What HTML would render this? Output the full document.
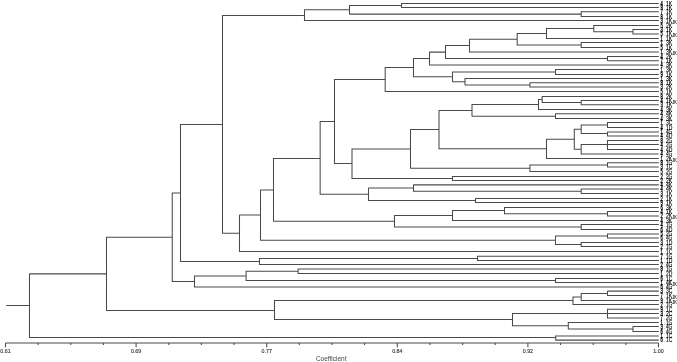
<!DOCTYPE html><html><head><meta charset="utf-8"><title>Dendrogram</title>
<style>html,body{margin:0;padding:0;background:#fff}svg{display:block}text{font-family:"Liberation Sans",sans-serif}</style></head><body>
<svg width="677" height="362" viewBox="0 0 677 362">
<rect width="677" height="362" fill="#fff"/>
<g stroke="#4a4a4a" stroke-width="1.05" fill="none" stroke-linecap="butt">
<path d="M401.50 3.50L658.80 3.50M401.50 7.50L658.80 7.50M401.50 3.10L401.50 7.90M581.20 11.75L658.80 11.75M581.20 16.50L658.80 16.50M581.20 11.35L581.20 16.90M349.50 5.50L401.50 5.50M349.50 14.10L581.20 14.10M349.50 5.10L349.50 14.50M304.50 9.80L349.50 9.80M304.50 20.50L658.80 20.50M304.50 9.40L304.50 20.90M633.00 29.50L658.80 29.50M633.00 34.00L658.80 34.00M633.00 29.10L633.00 34.40M593.80 25.50L658.80 25.50M593.80 31.75L633.00 31.75M593.80 25.10L593.80 32.15M546.50 28.50L593.80 28.50M546.50 38.50L658.80 38.50M546.50 28.10L546.50 38.90M581.20 42.50L658.80 42.50M581.20 47.50L658.80 47.50M581.20 42.10L581.20 47.90M517.20 33.50L546.50 33.50M517.20 45.00L581.20 45.00M517.20 33.10L517.20 45.40M469.50 39.30L517.20 39.30M469.50 52.00L658.80 52.00M469.50 38.90L469.50 52.40M607.50 56.50L658.80 56.50M607.50 60.70L658.80 60.70M607.50 56.10L607.50 61.10M445.50 45.50L469.50 45.50M445.50 58.50L607.50 58.50M445.50 45.10L445.50 58.90M429.50 52.10L445.50 52.10M429.50 65.00L658.80 65.00M429.50 51.70L429.50 65.40M555.50 69.50L658.80 69.50M555.50 74.50L658.80 74.50M555.50 69.10L555.50 74.90M529.90 82.80L658.80 82.80M529.90 87.00L658.80 87.00M529.90 82.40L529.90 87.40M465.00 78.50L658.80 78.50M465.00 84.90L529.90 84.90M465.00 78.10L465.00 85.30M452.50 71.90L555.50 71.90M452.50 81.70L465.00 81.70M452.50 71.50L452.50 82.10M413.50 58.50L429.50 58.50M413.50 76.80L452.50 76.80M413.50 58.10L413.50 77.20M385.20 67.50L413.50 67.50M385.20 91.50L658.80 91.50M385.20 67.10L385.20 91.90M581.20 100.50L658.80 100.50M581.20 104.80L658.80 104.80M581.20 100.10L581.20 105.20M542.20 96.50L658.80 96.50M542.20 102.50L581.20 102.50M542.20 96.10L542.20 102.90M538.50 99.50L542.20 99.50M538.50 109.50L658.80 109.50M538.50 99.10L538.50 109.90M555.50 113.80L658.80 113.80M555.50 118.50L658.80 118.50M555.50 113.40L555.50 118.90M472.00 104.50L538.50 104.50M472.00 116.15L555.50 116.15M472.00 104.10L472.00 116.55M607.50 122.50L658.80 122.50M607.50 127.50L658.80 127.50M607.50 122.10L607.50 127.90M607.50 132.00L658.80 132.00M607.50 136.00L658.80 136.00M607.50 131.60L607.50 136.40M581.20 125.00L607.50 125.00M581.20 133.50L607.50 133.50M581.20 124.60L581.20 133.90M607.50 140.50L658.80 140.50M607.50 144.50L658.80 144.50M607.50 149.50L658.80 149.50M607.50 140.10L607.50 149.90M581.20 144.50L607.50 144.50M581.20 154.00L658.80 154.00M581.20 144.10L581.20 154.40M574.30 129.25L581.20 129.25M574.30 149.25L581.20 149.25M574.30 128.85L574.30 149.65M546.50 139.25L574.30 139.25M546.50 158.50L658.80 158.50M546.50 138.85L546.50 158.90M439.00 110.50L472.00 110.50M439.00 148.80L546.50 148.80M439.00 110.10L439.00 149.20M607.50 162.75L658.80 162.75M607.50 167.00L658.80 167.00M607.50 162.35L607.50 167.40M529.90 164.90L607.50 164.90M529.90 171.50L658.80 171.50M529.90 164.50L529.90 171.90M410.50 129.50L439.00 129.50M410.50 168.20L529.90 168.20M410.50 129.10L410.50 168.60M452.50 176.50L658.80 176.50M452.50 180.50L658.80 180.50M452.50 176.10L452.50 180.90M352.00 148.90L410.50 148.90M352.00 178.50L452.50 178.50M352.00 148.50L352.00 178.90M334.50 79.50L385.20 79.50M334.50 163.50L352.00 163.50M334.50 79.10L334.50 163.90M581.20 189.00L658.80 189.00M581.20 193.50L658.80 193.50M581.20 188.60L581.20 193.90M413.50 184.85L658.80 184.85M413.50 191.25L581.20 191.25M413.50 184.45L413.50 191.65M475.50 198.50L658.80 198.50M475.50 202.50L658.80 202.50M475.50 198.10L475.50 202.90M368.50 188.05L413.50 188.05M368.50 200.50L475.50 200.50M368.50 187.65L368.50 200.90M320.15 121.50L334.50 121.50M320.15 194.30L368.50 194.30M320.15 121.10L320.15 194.70M607.50 211.50L658.80 211.50M607.50 216.00L658.80 216.00M607.50 211.10L607.50 216.40M504.50 207.50L658.80 207.50M504.50 213.75L607.50 213.75M504.50 207.10L504.50 214.15M452.50 210.50L504.50 210.50M452.50 220.50L658.80 220.50M452.50 210.10L452.50 220.90M581.20 224.50L658.80 224.50M581.20 229.50L658.80 229.50M581.20 224.10L581.20 229.90M394.50 215.50L452.50 215.50M394.50 227.00L581.20 227.00M394.50 215.10L394.50 227.40M273.50 158.50L320.15 158.50M273.50 221.25L394.50 221.25M273.50 158.10L273.50 221.65M607.50 234.00L658.80 234.00M607.50 238.00L658.80 238.00M607.50 233.60L607.50 238.40M581.20 242.50L658.80 242.50M581.20 246.50L658.80 246.50M581.20 242.10L581.20 246.90M555.50 236.00L607.50 236.00M555.50 244.50L581.20 244.50M555.50 235.60L555.50 244.90M260.50 189.90L273.50 189.90M260.50 240.25L555.50 240.25M260.50 189.50L260.50 240.65M239.50 215.05L260.50 215.05M239.50 251.50L658.80 251.50M239.50 214.65L239.50 251.90M222.50 15.50L304.50 15.50M222.50 233.30L239.50 233.30M222.50 15.10L222.50 233.70M477.50 256.20L658.80 256.20M477.50 260.50L658.80 260.50M477.50 255.80L477.50 260.90M259.50 258.50L477.50 258.50M259.50 264.50L658.80 264.50M259.50 258.10L259.50 264.90M180.50 124.50L222.50 124.50M180.50 261.50L259.50 261.50M180.50 124.10L180.50 261.90M298.10 269.00L658.80 269.00M298.10 273.50L658.80 273.50M298.10 268.60L298.10 273.90M555.50 278.50L658.80 278.50M555.50 282.50L658.80 282.50M555.50 278.10L555.50 282.90M246.10 271.25L298.10 271.25M246.10 280.50L555.50 280.50M246.10 270.85L246.10 280.90M194.50 275.90L246.10 275.90M194.50 287.00L658.80 287.00M194.50 275.50L194.50 287.40M172.25 192.95L180.50 192.95M172.25 281.50L194.50 281.50M172.25 192.55L172.25 281.90M607.50 291.10L658.80 291.10M607.50 295.50L658.80 295.50M607.50 290.70L607.50 295.90M581.20 293.50L607.50 293.50M581.20 300.50L658.80 300.50M581.20 293.10L581.20 300.90M573.00 296.90L581.20 296.90M573.00 304.50L658.80 304.50M573.00 296.50L573.00 304.90M607.50 309.20L658.80 309.20M607.50 313.50L658.80 313.50M607.50 318.00L658.80 318.00M607.50 308.80L607.50 318.40M633.00 326.50L658.80 326.50M633.00 331.50L658.80 331.50M633.00 326.10L633.00 331.90M568.30 322.50L658.80 322.50M568.30 329.00L633.00 329.00M568.30 322.10L568.30 329.40M512.50 313.50L607.50 313.50M512.50 325.75L568.30 325.75M512.50 313.10L512.50 326.15M274.50 300.50L573.00 300.50M274.50 319.50L512.50 319.50M274.50 300.10L274.50 319.90M106.50 237.20L172.25 237.20M106.50 310.50L274.50 310.50M106.50 236.80L106.50 310.90M555.70 336.00L658.80 336.00M555.70 340.10L658.80 340.10M555.70 335.60L555.70 340.50M29.50 273.85L106.50 273.85M29.50 337.50L555.70 337.50M29.50 273.45L29.50 337.90M6.20 305.50L29.50 305.50"/>
<path d="M5.5 343.0L658.5 343.0M5.5 343.0L5.5 347.2M38.1 343.0L38.1 345.0M70.8 343.0L70.8 345.0M103.4 343.0L103.4 345.0M136.1 343.0L136.1 347.2M168.8 343.0L168.8 345.0M201.4 343.0L201.4 345.0M234.0 343.0L234.0 345.0M266.7 343.0L266.7 347.2M299.3 343.0L299.3 345.0M332.0 343.0L332.0 345.0M364.6 343.0L364.6 345.0M397.3 343.0L397.3 347.2M429.9 343.0L429.9 345.0M462.6 343.0L462.6 345.0M495.2 343.0L495.2 345.0M527.9 343.0L527.9 347.2M560.5 343.0L560.5 345.0M593.2 343.0L593.2 345.0M625.9 343.0L625.9 345.0M658.5 343.0L658.5 347.2"/>
</g>
<g font-size="5.3" text-anchor="middle" fill="#333" stroke="#333" stroke-width="0.12">
<text x="5.5" y="353.2">0.61</text>
<text x="136.1" y="353.2">0.69</text>
<text x="266.7" y="353.2">0.77</text>
<text x="397.3" y="353.2">0.84</text>
<text x="527.9" y="353.2">0.92</text>
<text x="658.5" y="353.2">1.00</text>
</g>
<text x="331.2" y="361.2" font-size="6.5" text-anchor="middle" fill="#444">Coefficient</text>
<g font-size="6.4" fill="#000" stroke="#000" stroke-width="0.12">
<text y="5.8"><tspan x="660.5" textLength="2.3" lengthAdjust="spacingAndGlyphs" stroke-width="0.3">4</tspan><tspan x="663.9" textLength="0.9" lengthAdjust="spacingAndGlyphs" fill="#555" stroke="none">.</tspan><tspan x="665.9" textLength="6.4" lengthAdjust="spacingAndGlyphs">1K</tspan></text>
<text y="9.8"><tspan x="660.5" textLength="2.3" lengthAdjust="spacingAndGlyphs" stroke-width="0.3">9</tspan><tspan x="663.9" textLength="0.9" lengthAdjust="spacingAndGlyphs" fill="#555" stroke="none">.</tspan><tspan x="665.9" textLength="6.4" lengthAdjust="spacingAndGlyphs">1K</tspan></text>
<text y="14.1"><tspan x="660.5" textLength="2.3" lengthAdjust="spacingAndGlyphs" stroke-width="0.3">7</tspan><tspan x="663.9" textLength="0.9" lengthAdjust="spacingAndGlyphs" fill="#555" stroke="none">.</tspan><tspan x="665.9" textLength="6.4" lengthAdjust="spacingAndGlyphs">1K</tspan></text>
<text y="18.8"><tspan x="660.5" textLength="2.3" lengthAdjust="spacingAndGlyphs" stroke-width="0.3">8</tspan><tspan x="663.9" textLength="0.9" lengthAdjust="spacingAndGlyphs" fill="#555" stroke="none">.</tspan><tspan x="665.9" textLength="6.4" lengthAdjust="spacingAndGlyphs">1K</tspan></text>
<text y="22.8"><tspan x="660.5" textLength="2.3" lengthAdjust="spacingAndGlyphs" stroke-width="0.3">3</tspan><tspan x="663.9" textLength="0.9" lengthAdjust="spacingAndGlyphs" fill="#555" stroke="none">.</tspan><tspan x="665.9" textLength="6.4" lengthAdjust="spacingAndGlyphs">1K</tspan><tspan x="672.3" dy="1" font-size="6" textLength="4.4" lengthAdjust="spacingAndGlyphs">JK</tspan></text>
<text y="27.8"><tspan x="660.5" textLength="2.3" lengthAdjust="spacingAndGlyphs" stroke-width="0.3">5</tspan><tspan x="663.9" textLength="0.9" lengthAdjust="spacingAndGlyphs" fill="#555" stroke="none">.</tspan><tspan x="665.9" textLength="6.4" lengthAdjust="spacingAndGlyphs">2K</tspan></text>
<text y="31.8"><tspan x="660.5" textLength="2.3" lengthAdjust="spacingAndGlyphs" stroke-width="0.3">3</tspan><tspan x="663.9" textLength="0.9" lengthAdjust="spacingAndGlyphs" fill="#555" stroke="none">.</tspan><tspan x="665.9" textLength="6.4" lengthAdjust="spacingAndGlyphs">1K</tspan></text>
<text y="36.3"><tspan x="660.5" textLength="2.3" lengthAdjust="spacingAndGlyphs" stroke-width="0.3">5</tspan><tspan x="663.9" textLength="0.9" lengthAdjust="spacingAndGlyphs" fill="#555" stroke="none">.</tspan><tspan x="665.9" textLength="6.4" lengthAdjust="spacingAndGlyphs">1K</tspan><tspan x="672.3" dy="1" font-size="6" textLength="4.4" lengthAdjust="spacingAndGlyphs">JK</tspan></text>
<text y="40.8"><tspan x="660.5" textLength="2.3" lengthAdjust="spacingAndGlyphs" stroke-width="0.3">1</tspan><tspan x="663.9" textLength="0.9" lengthAdjust="spacingAndGlyphs" fill="#555" stroke="none">.</tspan><tspan x="665.9" textLength="6.4" lengthAdjust="spacingAndGlyphs">1K</tspan></text>
<text y="44.8"><tspan x="660.5" textLength="2.3" lengthAdjust="spacingAndGlyphs" stroke-width="0.3">1</tspan><tspan x="663.9" textLength="0.9" lengthAdjust="spacingAndGlyphs" fill="#555" stroke="none">.</tspan><tspan x="665.9" textLength="6.4" lengthAdjust="spacingAndGlyphs">3K</tspan></text>
<text y="49.8"><tspan x="660.5" textLength="2.3" lengthAdjust="spacingAndGlyphs" stroke-width="0.3">5</tspan><tspan x="663.9" textLength="0.9" lengthAdjust="spacingAndGlyphs" fill="#555" stroke="none">.</tspan><tspan x="665.9" textLength="6.4" lengthAdjust="spacingAndGlyphs">1K</tspan></text>
<text y="54.3"><tspan x="660.5" textLength="2.3" lengthAdjust="spacingAndGlyphs" stroke-width="0.3">1</tspan><tspan x="663.9" textLength="0.9" lengthAdjust="spacingAndGlyphs" fill="#555" stroke="none">.</tspan><tspan x="665.9" textLength="6.4" lengthAdjust="spacingAndGlyphs">3K</tspan><tspan x="672.3" dy="1" font-size="6" textLength="4.4" lengthAdjust="spacingAndGlyphs">JK</tspan></text>
<text y="58.8"><tspan x="660.5" textLength="2.3" lengthAdjust="spacingAndGlyphs" stroke-width="0.3">4</tspan><tspan x="663.9" textLength="0.9" lengthAdjust="spacingAndGlyphs" fill="#555" stroke="none">.</tspan><tspan x="665.9" textLength="6.4" lengthAdjust="spacingAndGlyphs">2K</tspan></text>
<text y="63.0"><tspan x="660.5" textLength="2.3" lengthAdjust="spacingAndGlyphs" stroke-width="0.3">7</tspan><tspan x="663.9" textLength="0.9" lengthAdjust="spacingAndGlyphs" fill="#555" stroke="none">.</tspan><tspan x="665.9" textLength="6.4" lengthAdjust="spacingAndGlyphs">1K</tspan></text>
<text y="67.3"><tspan x="660.5" textLength="2.3" lengthAdjust="spacingAndGlyphs" stroke-width="0.3">4</tspan><tspan x="663.9" textLength="0.9" lengthAdjust="spacingAndGlyphs" fill="#555" stroke="none">.</tspan><tspan x="665.9" textLength="6.4" lengthAdjust="spacingAndGlyphs">3K</tspan></text>
<text y="71.8"><tspan x="660.5" textLength="2.3" lengthAdjust="spacingAndGlyphs" stroke-width="0.3">1</tspan><tspan x="663.9" textLength="0.9" lengthAdjust="spacingAndGlyphs" fill="#555" stroke="none">.</tspan><tspan x="665.9" textLength="6.4" lengthAdjust="spacingAndGlyphs">3K</tspan></text>
<text y="76.6"><tspan x="660.5" textLength="2.3" lengthAdjust="spacingAndGlyphs" stroke-width="0.3">9</tspan><tspan x="663.9" textLength="0.9" lengthAdjust="spacingAndGlyphs" fill="#555" stroke="none">.</tspan><tspan x="665.9" textLength="6.4" lengthAdjust="spacingAndGlyphs">1K</tspan></text>
<text y="80.8"><tspan x="660.5" textLength="2.3" lengthAdjust="spacingAndGlyphs" stroke-width="0.3">1</tspan><tspan x="663.9" textLength="0.9" lengthAdjust="spacingAndGlyphs" fill="#555" stroke="none">.</tspan><tspan x="665.9" textLength="6.4" lengthAdjust="spacingAndGlyphs">3K</tspan></text>
<text y="85.1"><tspan x="660.5" textLength="2.3" lengthAdjust="spacingAndGlyphs" stroke-width="0.3">8</tspan><tspan x="663.9" textLength="0.9" lengthAdjust="spacingAndGlyphs" fill="#555" stroke="none">.</tspan><tspan x="665.9" textLength="6.4" lengthAdjust="spacingAndGlyphs">1K</tspan></text>
<text y="89.3"><tspan x="660.5" textLength="2.3" lengthAdjust="spacingAndGlyphs" stroke-width="0.3">3</tspan><tspan x="663.9" textLength="0.9" lengthAdjust="spacingAndGlyphs" fill="#555" stroke="none">.</tspan><tspan x="665.9" textLength="6.4" lengthAdjust="spacingAndGlyphs">2K</tspan></text>
<text y="93.8"><tspan x="660.5" textLength="2.3" lengthAdjust="spacingAndGlyphs" stroke-width="0.3">5</tspan><tspan x="663.9" textLength="0.9" lengthAdjust="spacingAndGlyphs" fill="#555" stroke="none">.</tspan><tspan x="665.9" textLength="6.4" lengthAdjust="spacingAndGlyphs">1K</tspan></text>
<text y="98.8"><tspan x="660.5" textLength="2.3" lengthAdjust="spacingAndGlyphs" stroke-width="0.3">8</tspan><tspan x="663.9" textLength="0.9" lengthAdjust="spacingAndGlyphs" fill="#555" stroke="none">.</tspan><tspan x="665.9" textLength="6.4" lengthAdjust="spacingAndGlyphs">2K</tspan></text>
<text y="102.8"><tspan x="660.5" textLength="2.3" lengthAdjust="spacingAndGlyphs" stroke-width="0.3">4</tspan><tspan x="663.9" textLength="0.9" lengthAdjust="spacingAndGlyphs" fill="#555" stroke="none">.</tspan><tspan x="665.9" textLength="6.4" lengthAdjust="spacingAndGlyphs">1K</tspan><tspan x="672.3" dy="1" font-size="6" textLength="4.4" lengthAdjust="spacingAndGlyphs">JK</tspan></text>
<text y="107.1"><tspan x="660.5" textLength="2.3" lengthAdjust="spacingAndGlyphs" stroke-width="0.3">3</tspan><tspan x="663.9" textLength="0.9" lengthAdjust="spacingAndGlyphs" fill="#555" stroke="none">.</tspan><tspan x="665.9" textLength="6.4" lengthAdjust="spacingAndGlyphs">1K</tspan></text>
<text y="111.8"><tspan x="660.5" textLength="2.3" lengthAdjust="spacingAndGlyphs" stroke-width="0.3">4</tspan><tspan x="663.9" textLength="0.9" lengthAdjust="spacingAndGlyphs" fill="#555" stroke="none">.</tspan><tspan x="665.9" textLength="6.4" lengthAdjust="spacingAndGlyphs">3K</tspan></text>
<text y="116.1"><tspan x="660.5" textLength="2.3" lengthAdjust="spacingAndGlyphs" stroke-width="0.3">4</tspan><tspan x="663.9" textLength="0.9" lengthAdjust="spacingAndGlyphs" fill="#555" stroke="none">.</tspan><tspan x="665.9" textLength="6.4" lengthAdjust="spacingAndGlyphs">4K</tspan></text>
<text y="120.8"><tspan x="660.5" textLength="2.3" lengthAdjust="spacingAndGlyphs" stroke-width="0.3">4</tspan><tspan x="663.9" textLength="0.9" lengthAdjust="spacingAndGlyphs" fill="#555" stroke="none">.</tspan><tspan x="665.9" textLength="6.4" lengthAdjust="spacingAndGlyphs">3K</tspan></text>
<text y="124.8"><tspan x="660.5" textLength="2.3" lengthAdjust="spacingAndGlyphs" stroke-width="0.3">1</tspan><tspan x="663.9" textLength="0.9" lengthAdjust="spacingAndGlyphs" fill="#555" stroke="none">.</tspan><tspan x="665.9" textLength="6.4" lengthAdjust="spacingAndGlyphs">3C</tspan></text>
<text y="129.8"><tspan x="660.5" textLength="2.3" lengthAdjust="spacingAndGlyphs" stroke-width="0.3">4</tspan><tspan x="663.9" textLength="0.9" lengthAdjust="spacingAndGlyphs" fill="#555" stroke="none">.</tspan><tspan x="665.9" textLength="6.4" lengthAdjust="spacingAndGlyphs">1D</tspan></text>
<text y="134.3"><tspan x="660.5" textLength="2.3" lengthAdjust="spacingAndGlyphs" stroke-width="0.3">1</tspan><tspan x="663.9" textLength="0.9" lengthAdjust="spacingAndGlyphs" fill="#555" stroke="none">.</tspan><tspan x="665.9" textLength="6.4" lengthAdjust="spacingAndGlyphs">4G</tspan></text>
<text y="138.3"><tspan x="660.5" textLength="2.3" lengthAdjust="spacingAndGlyphs" stroke-width="0.3">4</tspan><tspan x="663.9" textLength="0.9" lengthAdjust="spacingAndGlyphs" fill="#555" stroke="none">.</tspan><tspan x="665.9" textLength="6.4" lengthAdjust="spacingAndGlyphs">4D</tspan></text>
<text y="142.8"><tspan x="660.5" textLength="2.3" lengthAdjust="spacingAndGlyphs" stroke-width="0.3">8</tspan><tspan x="663.9" textLength="0.9" lengthAdjust="spacingAndGlyphs" fill="#555" stroke="none">.</tspan><tspan x="665.9" textLength="6.4" lengthAdjust="spacingAndGlyphs">2G</tspan></text>
<text y="146.8"><tspan x="660.5" textLength="2.3" lengthAdjust="spacingAndGlyphs" stroke-width="0.3">4</tspan><tspan x="663.9" textLength="0.9" lengthAdjust="spacingAndGlyphs" fill="#555" stroke="none">.</tspan><tspan x="665.9" textLength="6.4" lengthAdjust="spacingAndGlyphs">2G</tspan></text>
<text y="151.6"><tspan x="660.5" textLength="2.3" lengthAdjust="spacingAndGlyphs" stroke-width="0.3">4</tspan><tspan x="663.9" textLength="0.9" lengthAdjust="spacingAndGlyphs" fill="#555" stroke="none">.</tspan><tspan x="665.9" textLength="6.4" lengthAdjust="spacingAndGlyphs">4D</tspan></text>
<text y="156.3"><tspan x="660.5" textLength="2.3" lengthAdjust="spacingAndGlyphs" stroke-width="0.3">4</tspan><tspan x="663.9" textLength="0.9" lengthAdjust="spacingAndGlyphs" fill="#555" stroke="none">.</tspan><tspan x="665.9" textLength="6.4" lengthAdjust="spacingAndGlyphs">4G</tspan></text>
<text y="160.7"><tspan x="660.5" textLength="2.3" lengthAdjust="spacingAndGlyphs" stroke-width="0.3">1</tspan><tspan x="663.9" textLength="0.9" lengthAdjust="spacingAndGlyphs" fill="#555" stroke="none">.</tspan><tspan x="665.9" textLength="6.4" lengthAdjust="spacingAndGlyphs">2K</tspan><tspan x="672.3" dy="1" font-size="6" textLength="4.4" lengthAdjust="spacingAndGlyphs">JK</tspan></text>
<text y="165.1"><tspan x="660.5" textLength="2.3" lengthAdjust="spacingAndGlyphs" stroke-width="0.3">8</tspan><tspan x="663.9" textLength="0.9" lengthAdjust="spacingAndGlyphs" fill="#555" stroke="none">.</tspan><tspan x="665.9" textLength="6.4" lengthAdjust="spacingAndGlyphs">1G</tspan></text>
<text y="169.3"><tspan x="660.5" textLength="2.3" lengthAdjust="spacingAndGlyphs" stroke-width="0.3">3</tspan><tspan x="663.9" textLength="0.9" lengthAdjust="spacingAndGlyphs" fill="#555" stroke="none">.</tspan><tspan x="665.9" textLength="6.4" lengthAdjust="spacingAndGlyphs">1C</tspan></text>
<text y="173.8"><tspan x="660.5" textLength="2.3" lengthAdjust="spacingAndGlyphs" stroke-width="0.3">5</tspan><tspan x="663.9" textLength="0.9" lengthAdjust="spacingAndGlyphs" fill="#555" stroke="none">.</tspan><tspan x="665.9" textLength="6.4" lengthAdjust="spacingAndGlyphs">2G</tspan></text>
<text y="178.8"><tspan x="660.5" textLength="2.3" lengthAdjust="spacingAndGlyphs" stroke-width="0.3">2</tspan><tspan x="663.9" textLength="0.9" lengthAdjust="spacingAndGlyphs" fill="#555" stroke="none">.</tspan><tspan x="665.9" textLength="6.4" lengthAdjust="spacingAndGlyphs">2G</tspan></text>
<text y="182.8"><tspan x="660.5" textLength="2.3" lengthAdjust="spacingAndGlyphs" stroke-width="0.3">2</tspan><tspan x="663.9" textLength="0.9" lengthAdjust="spacingAndGlyphs" fill="#555" stroke="none">.</tspan><tspan x="665.9" textLength="6.4" lengthAdjust="spacingAndGlyphs">2K</tspan></text>
<text y="187.2"><tspan x="660.5" textLength="2.3" lengthAdjust="spacingAndGlyphs" stroke-width="0.3">4</tspan><tspan x="663.9" textLength="0.9" lengthAdjust="spacingAndGlyphs" fill="#555" stroke="none">.</tspan><tspan x="665.9" textLength="6.4" lengthAdjust="spacingAndGlyphs">4K</tspan></text>
<text y="191.3"><tspan x="660.5" textLength="2.3" lengthAdjust="spacingAndGlyphs" stroke-width="0.3">4</tspan><tspan x="663.9" textLength="0.9" lengthAdjust="spacingAndGlyphs" fill="#555" stroke="none">.</tspan><tspan x="665.9" textLength="6.4" lengthAdjust="spacingAndGlyphs">4K</tspan></text>
<text y="195.8"><tspan x="660.5" textLength="2.3" lengthAdjust="spacingAndGlyphs" stroke-width="0.3">3</tspan><tspan x="663.9" textLength="0.9" lengthAdjust="spacingAndGlyphs" fill="#555" stroke="none">.</tspan><tspan x="665.9" textLength="6.4" lengthAdjust="spacingAndGlyphs">1K</tspan></text>
<text y="200.8"><tspan x="660.5" textLength="2.3" lengthAdjust="spacingAndGlyphs" stroke-width="0.3">2</tspan><tspan x="663.9" textLength="0.9" lengthAdjust="spacingAndGlyphs" fill="#555" stroke="none">.</tspan><tspan x="665.9" textLength="6.4" lengthAdjust="spacingAndGlyphs">1K</tspan></text>
<text y="204.8"><tspan x="660.5" textLength="2.3" lengthAdjust="spacingAndGlyphs" stroke-width="0.3">9</tspan><tspan x="663.9" textLength="0.9" lengthAdjust="spacingAndGlyphs" fill="#555" stroke="none">.</tspan><tspan x="665.9" textLength="6.4" lengthAdjust="spacingAndGlyphs">1K</tspan></text>
<text y="209.7"><tspan x="660.5" textLength="2.3" lengthAdjust="spacingAndGlyphs" stroke-width="0.3">6</tspan><tspan x="663.9" textLength="0.9" lengthAdjust="spacingAndGlyphs" fill="#555" stroke="none">.</tspan><tspan x="665.9" textLength="6.4" lengthAdjust="spacingAndGlyphs">3K</tspan></text>
<text y="213.8"><tspan x="660.5" textLength="2.3" lengthAdjust="spacingAndGlyphs" stroke-width="0.3">4</tspan><tspan x="663.9" textLength="0.9" lengthAdjust="spacingAndGlyphs" fill="#555" stroke="none">.</tspan><tspan x="665.9" textLength="6.4" lengthAdjust="spacingAndGlyphs">1K</tspan></text>
<text y="218.3"><tspan x="660.5" textLength="2.3" lengthAdjust="spacingAndGlyphs" stroke-width="0.3">2</tspan><tspan x="663.9" textLength="0.9" lengthAdjust="spacingAndGlyphs" fill="#555" stroke="none">.</tspan><tspan x="665.9" textLength="6.4" lengthAdjust="spacingAndGlyphs">2K</tspan><tspan x="672.3" dy="1" font-size="6" textLength="4.4" lengthAdjust="spacingAndGlyphs">JK</tspan></text>
<text y="222.8"><tspan x="660.5" textLength="2.3" lengthAdjust="spacingAndGlyphs" stroke-width="0.3">4</tspan><tspan x="663.9" textLength="0.9" lengthAdjust="spacingAndGlyphs" fill="#555" stroke="none">.</tspan><tspan x="665.9" textLength="6.4" lengthAdjust="spacingAndGlyphs">3K</tspan></text>
<text y="226.8"><tspan x="660.5" textLength="2.3" lengthAdjust="spacingAndGlyphs" stroke-width="0.3">4</tspan><tspan x="663.9" textLength="0.9" lengthAdjust="spacingAndGlyphs" fill="#555" stroke="none">.</tspan><tspan x="665.9" textLength="6.4" lengthAdjust="spacingAndGlyphs">1G</tspan></text>
<text y="231.8"><tspan x="660.5" textLength="2.3" lengthAdjust="spacingAndGlyphs" stroke-width="0.3">6</tspan><tspan x="663.9" textLength="0.9" lengthAdjust="spacingAndGlyphs" fill="#555" stroke="none">.</tspan><tspan x="665.9" textLength="6.4" lengthAdjust="spacingAndGlyphs">4D</tspan></text>
<text y="236.3"><tspan x="660.5" textLength="2.3" lengthAdjust="spacingAndGlyphs" stroke-width="0.3">5</tspan><tspan x="663.9" textLength="0.9" lengthAdjust="spacingAndGlyphs" fill="#555" stroke="none">.</tspan><tspan x="665.9" textLength="6.4" lengthAdjust="spacingAndGlyphs">2G</tspan></text>
<text y="240.3"><tspan x="660.5" textLength="2.3" lengthAdjust="spacingAndGlyphs" stroke-width="0.3">6</tspan><tspan x="663.9" textLength="0.9" lengthAdjust="spacingAndGlyphs" fill="#555" stroke="none">.</tspan><tspan x="665.9" textLength="6.4" lengthAdjust="spacingAndGlyphs">4G</tspan></text>
<text y="244.8"><tspan x="660.5" textLength="2.3" lengthAdjust="spacingAndGlyphs" stroke-width="0.3">3</tspan><tspan x="663.9" textLength="0.9" lengthAdjust="spacingAndGlyphs" fill="#555" stroke="none">.</tspan><tspan x="665.9" textLength="6.4" lengthAdjust="spacingAndGlyphs">1D</tspan></text>
<text y="248.8"><tspan x="660.5" textLength="2.3" lengthAdjust="spacingAndGlyphs" stroke-width="0.3">2</tspan><tspan x="663.9" textLength="0.9" lengthAdjust="spacingAndGlyphs" fill="#555" stroke="none">.</tspan><tspan x="665.9" textLength="6.4" lengthAdjust="spacingAndGlyphs">1G</tspan></text>
<text y="253.8"><tspan x="660.5" textLength="2.3" lengthAdjust="spacingAndGlyphs" stroke-width="0.3">1</tspan><tspan x="663.9" textLength="0.9" lengthAdjust="spacingAndGlyphs" fill="#555" stroke="none">.</tspan><tspan x="665.9" textLength="6.4" lengthAdjust="spacingAndGlyphs">1C</tspan></text>
<text y="258.5"><tspan x="660.5" textLength="2.3" lengthAdjust="spacingAndGlyphs" stroke-width="0.3">7</tspan><tspan x="663.9" textLength="0.9" lengthAdjust="spacingAndGlyphs" fill="#555" stroke="none">.</tspan><tspan x="665.9" textLength="6.4" lengthAdjust="spacingAndGlyphs">1G</tspan></text>
<text y="262.8"><tspan x="660.5" textLength="2.3" lengthAdjust="spacingAndGlyphs" stroke-width="0.3">1</tspan><tspan x="663.9" textLength="0.9" lengthAdjust="spacingAndGlyphs" fill="#555" stroke="none">.</tspan><tspan x="665.9" textLength="6.4" lengthAdjust="spacingAndGlyphs">1D</tspan></text>
<text y="267.0"><tspan x="660.5" textLength="2.3" lengthAdjust="spacingAndGlyphs" stroke-width="0.3">2</tspan><tspan x="663.9" textLength="0.9" lengthAdjust="spacingAndGlyphs" fill="#555" stroke="none">.</tspan><tspan x="665.9" textLength="6.4" lengthAdjust="spacingAndGlyphs">4G</tspan></text>
<text y="271.3"><tspan x="660.5" textLength="2.3" lengthAdjust="spacingAndGlyphs" stroke-width="0.3">8</tspan><tspan x="663.9" textLength="0.9" lengthAdjust="spacingAndGlyphs" fill="#555" stroke="none">.</tspan><tspan x="665.9" textLength="6.4" lengthAdjust="spacingAndGlyphs">1G</tspan></text>
<text y="275.8"><tspan x="660.5" textLength="2.3" lengthAdjust="spacingAndGlyphs" stroke-width="0.3">1</tspan><tspan x="663.9" textLength="0.9" lengthAdjust="spacingAndGlyphs" fill="#555" stroke="none">.</tspan><tspan x="665.9" textLength="6.4" lengthAdjust="spacingAndGlyphs">2D</tspan></text>
<text y="280.8"><tspan x="660.5" textLength="2.3" lengthAdjust="spacingAndGlyphs" stroke-width="0.3">6</tspan><tspan x="663.9" textLength="0.9" lengthAdjust="spacingAndGlyphs" fill="#555" stroke="none">.</tspan><tspan x="665.9" textLength="6.4" lengthAdjust="spacingAndGlyphs">1C</tspan></text>
<text y="284.8"><tspan x="660.5" textLength="2.3" lengthAdjust="spacingAndGlyphs" stroke-width="0.3">1</tspan><tspan x="663.9" textLength="0.9" lengthAdjust="spacingAndGlyphs" fill="#555" stroke="none">.</tspan><tspan x="665.9" textLength="6.4" lengthAdjust="spacingAndGlyphs">4K</tspan><tspan x="672.3" dy="1" font-size="6" textLength="4.4" lengthAdjust="spacingAndGlyphs">JK</tspan></text>
<text y="289.3"><tspan x="660.5" textLength="2.3" lengthAdjust="spacingAndGlyphs" stroke-width="0.3">6</tspan><tspan x="663.9" textLength="0.9" lengthAdjust="spacingAndGlyphs" fill="#555" stroke="none">.</tspan><tspan x="665.9" textLength="6.4" lengthAdjust="spacingAndGlyphs">4G</tspan></text>
<text y="293.4"><tspan x="660.5" textLength="2.3" lengthAdjust="spacingAndGlyphs" stroke-width="0.3">3</tspan><tspan x="663.9" textLength="0.9" lengthAdjust="spacingAndGlyphs" fill="#555" stroke="none">.</tspan><tspan x="665.9" textLength="6.4" lengthAdjust="spacingAndGlyphs">3C</tspan></text>
<text y="297.8"><tspan x="660.5" textLength="2.3" lengthAdjust="spacingAndGlyphs" stroke-width="0.3">7</tspan><tspan x="663.9" textLength="0.9" lengthAdjust="spacingAndGlyphs" fill="#555" stroke="none">.</tspan><tspan x="665.9" textLength="6.4" lengthAdjust="spacingAndGlyphs">1K</tspan><tspan x="672.3" dy="1" font-size="6" textLength="4.4" lengthAdjust="spacingAndGlyphs">JK</tspan></text>
<text y="302.8"><tspan x="660.5" textLength="2.3" lengthAdjust="spacingAndGlyphs" stroke-width="0.3">9</tspan><tspan x="663.9" textLength="0.9" lengthAdjust="spacingAndGlyphs" fill="#555" stroke="none">.</tspan><tspan x="665.9" textLength="6.4" lengthAdjust="spacingAndGlyphs">1K</tspan><tspan x="672.3" dy="1" font-size="6" textLength="4.4" lengthAdjust="spacingAndGlyphs">JK</tspan></text>
<text y="306.8"><tspan x="660.5" textLength="2.3" lengthAdjust="spacingAndGlyphs" stroke-width="0.3">2</tspan><tspan x="663.9" textLength="0.9" lengthAdjust="spacingAndGlyphs" fill="#555" stroke="none">.</tspan><tspan x="665.9" textLength="6.4" lengthAdjust="spacingAndGlyphs">1G</tspan></text>
<text y="311.5"><tspan x="660.5" textLength="2.3" lengthAdjust="spacingAndGlyphs" stroke-width="0.3">9</tspan><tspan x="663.9" textLength="0.9" lengthAdjust="spacingAndGlyphs" fill="#555" stroke="none">.</tspan><tspan x="665.9" textLength="6.4" lengthAdjust="spacingAndGlyphs">1C</tspan></text>
<text y="315.7"><tspan x="660.5" textLength="2.3" lengthAdjust="spacingAndGlyphs" stroke-width="0.3">3</tspan><tspan x="663.9" textLength="0.9" lengthAdjust="spacingAndGlyphs" fill="#555" stroke="none">.</tspan><tspan x="665.9" textLength="6.4" lengthAdjust="spacingAndGlyphs">2C</tspan></text>
<text y="320.3"><tspan x="660.5" textLength="2.3" lengthAdjust="spacingAndGlyphs" stroke-width="0.3">7</tspan><tspan x="663.9" textLength="0.9" lengthAdjust="spacingAndGlyphs" fill="#555" stroke="none">.</tspan><tspan x="665.9" textLength="6.4" lengthAdjust="spacingAndGlyphs">2G</tspan></text>
<text y="324.8"><tspan x="660.5" textLength="2.3" lengthAdjust="spacingAndGlyphs" stroke-width="0.3">1</tspan><tspan x="663.9" textLength="0.9" lengthAdjust="spacingAndGlyphs" fill="#555" stroke="none">.</tspan><tspan x="665.9" textLength="6.4" lengthAdjust="spacingAndGlyphs">1G</tspan></text>
<text y="328.8"><tspan x="660.5" textLength="2.3" lengthAdjust="spacingAndGlyphs" stroke-width="0.3">3</tspan><tspan x="663.9" textLength="0.9" lengthAdjust="spacingAndGlyphs" fill="#555" stroke="none">.</tspan><tspan x="665.9" textLength="6.4" lengthAdjust="spacingAndGlyphs">4G</tspan></text>
<text y="333.8"><tspan x="660.5" textLength="2.3" lengthAdjust="spacingAndGlyphs" stroke-width="0.3">6</tspan><tspan x="663.9" textLength="0.9" lengthAdjust="spacingAndGlyphs" fill="#555" stroke="none">.</tspan><tspan x="665.9" textLength="6.4" lengthAdjust="spacingAndGlyphs">4G</tspan></text>
<text y="338.3"><tspan x="660.5" textLength="2.3" lengthAdjust="spacingAndGlyphs" stroke-width="0.3">1</tspan><tspan x="663.9" textLength="0.9" lengthAdjust="spacingAndGlyphs" fill="#555" stroke="none">.</tspan><tspan x="665.9" textLength="6.4" lengthAdjust="spacingAndGlyphs">1C</tspan></text>
<text y="342.4"><tspan x="660.5" textLength="2.3" lengthAdjust="spacingAndGlyphs" stroke-width="0.3">6</tspan><tspan x="663.9" textLength="0.9" lengthAdjust="spacingAndGlyphs" fill="#555" stroke="none">.</tspan><tspan x="665.9" textLength="6.4" lengthAdjust="spacingAndGlyphs">1C</tspan></text>
</g>
</svg></body></html>
